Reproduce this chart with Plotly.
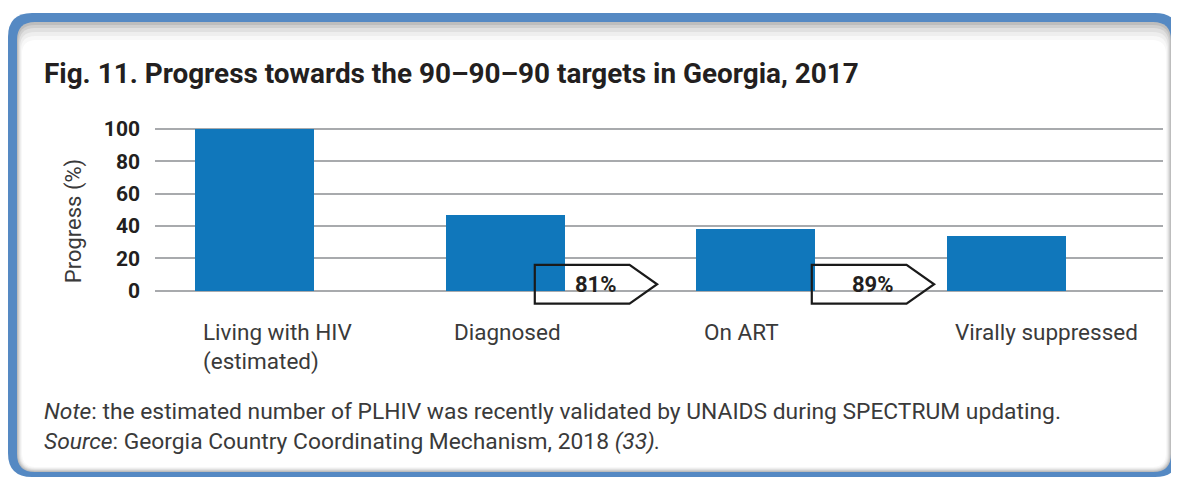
import plotly.graph_objects as go

# Data
categories = ["Living with HIV<br>(estimated)", "Diagnosed", "On ART", "Virally suppressed"]
progress = [100, 47, 38, 34]
step_labels = ["81%", "89%"]          # conversion between consecutive bars
y_ticks = [0, 20, 40, 60, 80, 100]

BLUE = "#1077bb"
GRID = "#a8aaad"
TEXT = "#231f20"
SOFT = "#3a3a3a"
FONT = "Roboto"
BAR_W = 0.475
ARROW_SHIFT = [0.118, 0.223]   # where each arrow starts, right of its bar centre

# the page puts the figure 8px in from the top-left corner
OFF = 8
W, H = 1179 - OFF, 477 - OFF
ML, MR, MT, MB = 155 - OFF, 16, 127 - OFF, 162
pw, ph = W - ML - MR, H - MT - MB


def px(x):
    # page pixel -> paper x
    return (x - OFF - ML) / pw


def py(y):
    # page pixel -> paper y
    return (H - MB - (y - OFF)) / ph


x_pos = list(range(len(categories)))

fig = go.Figure()
fig.add_trace(go.Bar(x=x_pos, y=progress, width=BAR_W, marker_color=BLUE,
                     marker_line_width=0, hoverinfo="skip", showlegend=False))

shapes = []


def rounded(x0, y0, x1, y1, r, color):
    # rounded rectangle in page pixels -> paper path
    pts = (f"M {px(x0 + r)},{py(y0)} L {px(x1 - r)},{py(y0)} Q {px(x1)},{py(y0)} {px(x1)},{py(y0 + r)} "
           f"L {px(x1)},{py(y1 - r)} Q {px(x1)},{py(y1)} {px(x1 - r)},{py(y1)} "
           f"L {px(x0 + r)},{py(y1)} Q {px(x0)},{py(y1)} {px(x0)},{py(y1 - r)} "
           f"L {px(x0)},{py(y0 + r)} Q {px(x0)},{py(y0)} {px(x0 + r)},{py(y0)} Z")
    return dict(type="path", xref="paper", yref="paper", path=pts, fillcolor=color,
                line_width=0, layer="below")


# frame: blue border, soft shadow, white panel
shapes.append(rounded(8, 13, 1179, 477, 24, "#5589c3"))
shapes.append(rounded(17, 22, 1171, 472, 18, "#bdbdbd"))
shapes.append(rounded(18, 25, 1170, 471, 17, "#cfcfcf"))
shapes.append(rounded(19, 28, 1169, 470, 16, "#e0e0e0"))
shapes.append(rounded(20, 32, 1168, 469, 15, "#eeeeee"))
shapes.append(rounded(21, 36, 1167, 468, 14, "#f8f8f8"))
shapes.append(rounded(22, 40, 1166, 467, 14, "#ffffff"))

# arrows between bars with conversion percentages
annotations = []
for i, lab in enumerate(step_labels):
    c = x_pos[i + 1] + ARROW_SHIFT[i]
    x0, x1, xt = c, c + 0.378, c + 0.488
    y0, y1, ym = -8, 16, 4
    shapes.append(dict(type="path", xref="x", yref="y",
                       path=f"M {x0},{y1} L {x1},{y1} L {xt},{ym} L {x1},{y0} L {x0},{y0} Z",
                       line=dict(color="#1a1a1a", width=2.2), fillcolor="rgba(0,0,0,0)", layer="above"))
    annotations.append(dict(x=c + 0.243, y=ym, xref="x", yref="y", text=f"<b>{lab}</b>",
                            showarrow=False, font=dict(family=FONT, size=22, color=TEXT)))

# category labels, left aligned under each bar
for i, cat in enumerate(categories):
    annotations.append(dict(x=x_pos[i] - BAR_W / 2, xshift=6, y=py(317), xref="x", yref="paper",
                            text=cat, showarrow=False, xanchor="left", yanchor="top", align="left",
                            font=dict(family=FONT, size=22.5, color=SOFT)))

# title and footnotes
annotations.append(dict(x=px(42), y=py(73), xref="paper", yref="paper", xanchor="left", yanchor="middle",
                        text="<b>Fig. 11. Progress towards the 90\u201390\u201390 targets in Georgia, 2017</b>",
                        showarrow=False, font=dict(family=FONT, size=27.9, color=TEXT)))
annotations.append(dict(x=px(42), y=py(411), xref="paper", yref="paper", xanchor="left", yanchor="middle",
                        text="<i>Note</i>: the estimated number of PLHIV was recently validated by UNAIDS during SPECTRUM updating.",
                        showarrow=False, font=dict(family=FONT, size=22.8, color=SOFT)))
annotations.append(dict(x=px(42), y=py(441), xref="paper", yref="paper", xanchor="left", yanchor="middle",
                        text="<i>Source</i>: Georgia Country Coordinating Mechanism, 2018 <i>(33).</i>",
                        showarrow=False, font=dict(family=FONT, size=22.8, color=SOFT)))

fig.update_layout(
    width=W, height=H,
    margin=dict(l=ML, r=MR, t=MT, b=MB, pad=0),
    paper_bgcolor="white", plot_bgcolor="rgba(0,0,0,0)",
    shapes=shapes, annotations=annotations,
    bargap=0, showlegend=False,
    xaxis=dict(range=[-0.397, 3.624], showticklabels=False, showgrid=False, zeroline=False,
               showline=False, fixedrange=True),
    yaxis=dict(range=[-15, 101.2], tickvals=y_ticks, showgrid=True, gridcolor=GRID, gridwidth=2.4,
               zeroline=False, showline=False, ticks="", ticklabelstandoff=14,
               tickfont=dict(family=FONT, size=21, color=TEXT, weight="bold"),
               title=dict(text="Progress (%)", standoff=16,
                          font=dict(family=FONT, size=22, color=SOFT)),
               fixedrange=True),
)

fig.write_html("out.html")
